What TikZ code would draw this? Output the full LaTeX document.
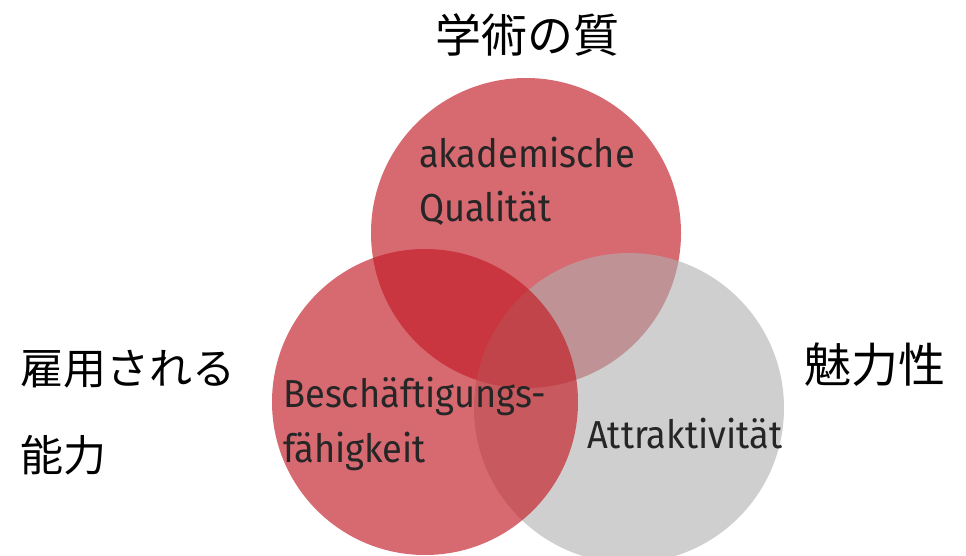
\documentclass[tikz,border=0pt]{standalone}
\usepackage{fontspec}
\newfontfamily\labfont{Fira Sans}[FakeStretch=0.93]
\newfontfamily\cjk{Noto Sans CJK JP}
\definecolor{vred}{RGB}{195,28,38}
\definecolor{vgray}{RGB}{175,175,175}
\tikzset{
  redset/.style={fill=vred, fill opacity=0.66, draw=none},
  grayset/.style={fill=vgray, fill opacity=0.6, draw=none},
  lab/.style={anchor=base west, inner sep=0pt, text=black!85, font=\labfont\fontsize{39pt}{39pt}\selectfont},
  jlab/.style={inner sep=0pt, text=black, font=\cjk\fontsize{45pt}{45pt}\selectfont}
}
\begin{document}
\begin{tikzpicture}[x=1pt,y=-1pt]
\useasboundingbox (0,0) rectangle (966,556);
\fill[white] (0,0) rectangle (966,556);
\fill[redset] (526,233) circle[radius=155];
\fill[grayset] (629,408) circle[radius=155];
\fill[redset] (425,402) circle[radius=153];
\node[lab] (aq1) at (419,168) {akademische};
\node[lab] (aq2) at (419,222) {Qualität};
\node[lab] (bf1) at (283,407) {Beschäftigungs-};
\node[lab] (bf2) at (283,462) {fähigkeit};
\node[lab] (at) at (587,448) {Attraktivität};
\node[jlab, font=\cjk\fontsize{46pt}{46pt}\selectfont] (jq) at (527,35) {学術の質};
\node[jlab, anchor=west, font=\cjk\fontsize{43pt}{43pt}\selectfont] (je1) at (20,369) {雇用される};
\node[jlab, anchor=west, font=\cjk\fontsize{43pt}{43pt}\selectfont] (je2) at (20,455) {能力};
\node[jlab, anchor=west, font=\cjk\fontsize{47pt}{47pt}\selectfont] (ja) at (804,365) {魅力性};
\end{tikzpicture}
\end{document}
